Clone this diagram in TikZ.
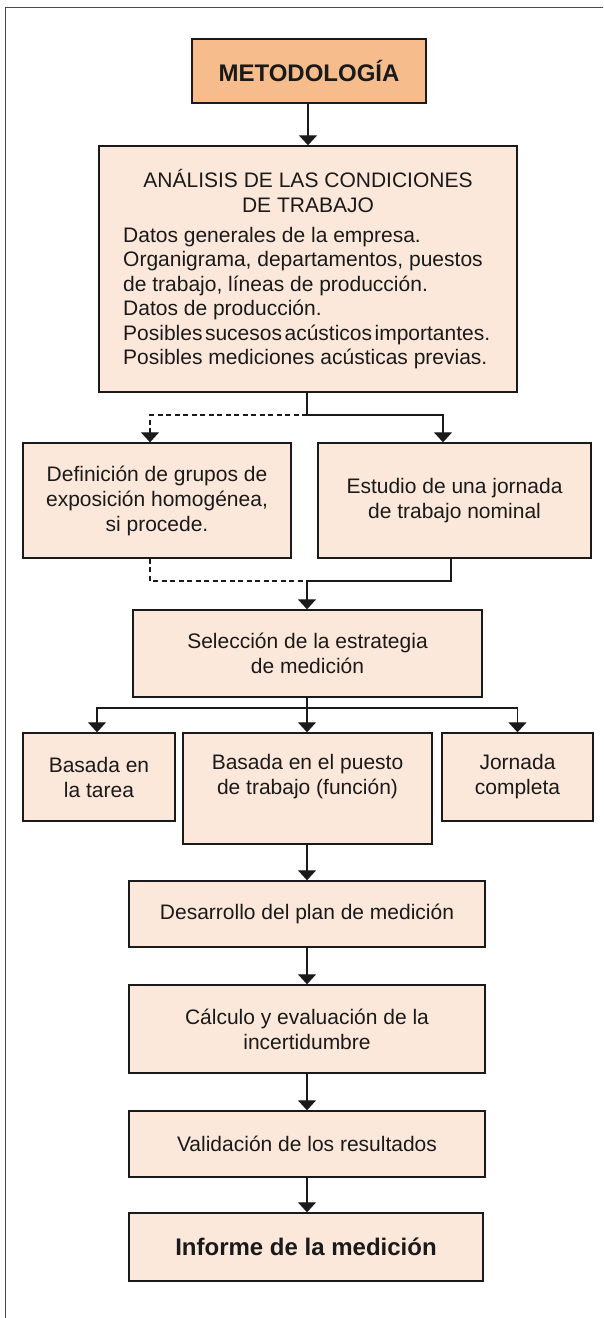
\documentclass[tikz,border=0pt]{standalone}
\usepackage{fontspec}
\setmainfont{Liberation Sans}
\usetikzlibrary{arrows.meta}
\definecolor{peach}{HTML}{FCE8DA}
\definecolor{orangefill}{HTML}{F7BC8C}
\definecolor{ink}{HTML}{1A1A1A}
\definecolor{framegray}{HTML}{4A4A4A}
\tikzset{
  box/.style={draw=ink, line width=1.4pt, fill=peach, inner sep=0pt, align=center,
              font=\fontsize{21}{25}\selectfont, text=ink},
  txt/.style={inner sep=0pt, align=center, font=\fontsize{21}{25}\selectfont, text=ink},
  boldtxt/.style={font=\fontsize{24}{28}\selectfont\bfseries},
  ln/.style={draw=ink, line width=1.3pt},
  arr/.style={-{Triangle[width=18pt,length=10pt]}},
  dsh/.style={dash pattern=on 5pt off 3.5pt},
  frameline/.style={draw=framegray, line width=1pt},
}
\begin{document}
\begin{tikzpicture}[x=1pt,y=-1pt]
\useasboundingbox (0,0) rectangle (603,1318);
\fill[white] (0,0) rectangle (603,1318);
% outer frame (top and left edges)
\draw[frameline] (603,7) -- (5,7) -- (5,1318);

% boxes
\node[box, fill=orangefill, boldtxt, minimum width=234pt, minimum height=64pt] (meto) at (309,71) {METODOLOGÍA};

\node[box, minimum width=418pt, minimum height=246pt] (anal) at (308,269) {};
\node[txt] (antit) at (308,190.5) {ANÁLISIS DE LAS CONDICIONES\\DE TRABAJO};
\node[txt, align=left, anchor=west, font=\fontsize{21}{24.4}\selectfont] (anlist) at (123,298)
  {Datos generales de la empresa.\\
   Organigrama, departamentos, puestos\\
   de trabajo, líneas de producción.\\
   Datos de producción.\\
   {\spaceskip=2.5pt Posibles sucesos acústicos importantes.}\\
   Posibles mediciones acústicas previas.};

\node[box, minimum width=268pt, minimum height=115pt] (def) at (157,500.5)
  {Definición de grupos de\\exposición homogénea,\\si procede.};
\node[box, minimum width=273pt, minimum height=115pt] (est) at (454.5,500.5)
  {Estudio de una jornada\\de trabajo nominal};

\node[box, minimum width=349pt, minimum height=87pt] (sel) at (307.5,653.5)
  {Selección de la estrategia\\de medición};

\node[box, minimum width=152pt, minimum height=88pt] (tar) at (99,777) {Basada en\\la tarea};
\node[box, minimum width=249pt, minimum height=111pt] (pue) at (307.5,788.5) {};
\node[txt] (puet) at (307.5,777) {Basada en el puesto\\de trabajo (función)};
\node[box, minimum width=151pt, minimum height=88pt] (jor) at (517.5,777) {Jornada\\completa};

\node[box, minimum width=356pt, minimum height=66pt] (des) at (307,914) {Desarrollo del plan de medición};
\node[box, minimum width=356pt, minimum height=88pt] (cal) at (307,1029) {Cálculo y evaluación de la\\incertidumbre};
\node[box, minimum width=356pt, minimum height=66pt] (val) at (307,1144) {Validación de los resultados};
\node[box, boldtxt, minimum width=354pt, minimum height=68pt] (inf) at (306,1247) {Informe de la medición};

% connectors
\draw[ln, arr] (meto.south -| 308,0) -- (anal.north -| 308,0);

\coordinate (j1) at (307,415);
\draw[ln] (anal.south -| j1) -- (j1);
\draw[ln, dsh, arr] (j1) -| ([xshift=-7pt]def.north);
\draw[ln, arr] (j1) -| ([xshift=-11.5pt]est.north);

\coordinate (j2) at (307,581);
\draw[ln, dsh] ([xshift=-7pt]def.south) |- (j2);
\draw[ln] ([xshift=-3.5pt]est.south) |- (j2);
\draw[ln, arr] (j2) -- (sel.north -| j2);

\coordinate (j3) at (307,708);
\draw[ln] (sel.south -| j3) -- (j3);
\draw[ln, arr] (j3) -| ([xshift=-2pt]tar.north);
\draw[ln, arr] (j3) -| (jor.north);
\draw[ln, arr] (j3) -- (pue.north -| j3);

\draw[ln, arr] (pue.south -| j3) -- (des.north -| j3);
\draw[ln, arr] (des.south -| j3) -- (cal.north -| j3);
\draw[ln, arr] (cal.south -| j3) -- (val.north -| j3);
\draw[ln, arr] (val.south -| j3) -- (inf.north -| j3);
\end{tikzpicture}
\end{document}
